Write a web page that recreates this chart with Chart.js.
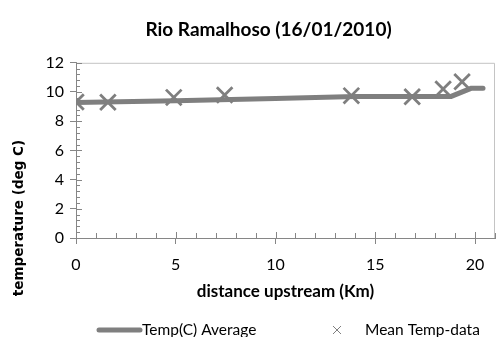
<!DOCTYPE html>
<html>
<head>
<meta charset="utf-8">
<script src="https://cdn.jsdelivr.net/npm/chart.js@4/dist/chart.umd.min.js"></script>
<style>
  html, body { margin: 0; padding: 0; background: #fff; }
  #wrap { width: 496px; height: 337px; }
</style>
</head>
<body>
<div id="wrap"><canvas id="myChart"></canvas></div>
<script>
// modelled line (Temp(C) Average)
const avgKm = [0, 5, 10, 14, 18.8, 19.8, 20.4];
const avgTemp = [9.28, 9.4, 9.55, 9.7, 9.7, 10.25, 10.25];

// measured points (Mean Temp-data)
const dataKm = [0, 1.6, 4.9, 7.45, 13.8, 16.85, 18.4, 19.35];
const dataTemp = [9.32, 9.3, 9.63, 9.8, 9.75, 9.68, 10.2, 10.7];

const seriesNames = ["Temp(C) Average", "Mean Temp-data"];
const titleText = "Rio Ramalhoso (16/01/2010)";
const xTitle = "distance upstream (Km)";
const yTitle = "temperature (deg C)";

const grey = "#7f7f7f";
const axisGrey = "#868686";

function toPoints(xs, ys) {
    var pts = [];
    for (var i = 0; i < xs.length; i++) {
        pts.push({ x: xs[i], y: ys[i] });
    }
    return pts;
}

// box around plot, inner ticks, y title and legend
const extras = {
    id: "extras",
    beforeDatasetsDraw(chart) {
        const { ctx, chartArea: a, scales } = chart;
        ctx.save();
        ctx.strokeStyle = "#c4c4c4";
        ctx.lineWidth = 1;
        ctx.beginPath();
        ctx.moveTo(a.left, a.top + 0.5);
        ctx.lineTo(a.right - 0.5, a.top + 0.5);
        ctx.lineTo(a.right - 0.5, a.bottom);
        ctx.stroke();

        ctx.strokeStyle = axisGrey;
        ctx.beginPath();
        for (var v = 0; v <= 21; v++) {
            const px = Math.round(scales.x.getPixelForValue(v)) + 0.5;
            ctx.moveTo(px, a.bottom);
            ctx.lineTo(px, a.bottom - (v % 5 === 0 ? 6 : 5));
        }
        for (var k = 0; k <= 30; k++) {
            const py = Math.round(scales.y.getPixelForValue(k * 0.4)) + 0.5;
            ctx.moveTo(a.left, py);
            ctx.lineTo(a.left + 4, py);
        }
        for (var t = 0; t <= 12; t += 2) {
            const py = Math.round(scales.y.getPixelForValue(t)) + 0.5;
            ctx.moveTo(a.left, py);
            ctx.lineTo(a.left + 6, py);
        }
        ctx.stroke();
        ctx.restore();
    },
    afterDraw(chart) {
        const ctx = chart.ctx;
        ctx.save();
        // y axis title
        ctx.translate(19, 218);
        ctx.rotate(-Math.PI / 2);
        ctx.font = "bold 13.5px 'DejaVu Sans'";
        ctx.fillStyle = "#000";
        ctx.textAlign = "center";
        ctx.textBaseline = "middle";
        ctx.fillText(yTitle, 0, 0);
        ctx.restore();

        // legend
        const ds = chart.data.datasets;
        const ly = 330;
        ctx.save();
        ctx.font = "15.5px Lato";
        ctx.fillStyle = "#000";
        ctx.textBaseline = "middle";
        ctx.strokeStyle = ds[0].borderColor;
        ctx.lineWidth = 5;
        ctx.lineCap = "round";
        ctx.beginPath();
        ctx.moveTo(99, ly);
        ctx.lineTo(140, ly);
        ctx.stroke();
        ctx.fillText(ds[0].label, 142, ly);

        ctx.strokeStyle = ds[1].borderColor;
        ctx.lineWidth = 1;
        ctx.lineCap = "butt";
        ctx.beginPath();
        ctx.moveTo(333, ly - 4);
        ctx.lineTo(341, ly + 4);
        ctx.moveTo(341, ly - 4);
        ctx.lineTo(333, ly + 4);
        ctx.stroke();
        ctx.fillText(ds[1].label, 365, ly);
        ctx.restore();
    }
};

var ctx = document.getElementById("myChart").getContext("2d");
var myChart = new Chart(ctx, {
    type: "scatter",
    data: {
        datasets: [
            {
                label: seriesNames[0],
                data: toPoints(avgKm, avgTemp),
                showLine: true,
                borderColor: grey,
                backgroundColor: grey,
                borderWidth: 5,
                borderCapStyle: "round",
                pointRadius: 0,
                order: 2
            },
            {
                label: seriesNames[1],
                data: toPoints(dataKm, dataTemp),
                showLine: false,
                pointStyle: "crossRot",
                pointRadius: 11,
                borderColor: grey,
                backgroundColor: grey,
                pointBorderWidth: 2.8,
                order: 1
            }
        ]
    },
    options: {
        responsive: true,
        maintainAspectRatio: false,
        animation: false,
        events: [],
        layout: { autoPadding: false, padding: { left: 42, right: 1, top: 0, bottom: 29 } },
        plugins: {
            legend: { display: false },
            tooltip: { enabled: false },
            title: {
                display: true,
                text: titleText,
                color: "#000",
                font: { family: "Lato", size: 19, weight: "bold" },
                padding: { top: 18, bottom: 22 }
            }
        },
        scales: {
            x: {
                type: "linear",
                min: 0,
                max: 21,
                afterFit: function (scale) {
                    scale.height = 70;
                    scale.paddingLeft = 0;
                    scale.paddingRight = 0;
                },
                ticks: {
                    stepSize: 1,
                    autoSkip: false,
                    maxRotation: 0,
                    color: "#000",
                    font: { family: "Lato", size: 16 },
                    padding: 11,
                    callback: function (v) { return v % 5 === 0 ? v : ""; }
                },
                grid: {
                    drawOnChartArea: false,
                    color: axisGrey,
                    tickColor: function (c) {
                        return c.tick && c.tick.value % 5 === 0 ? axisGrey : "rgba(0,0,0,0)";
                    },
                    tickLength: 6
                },
                border: { color: axisGrey },
                title: {
                    display: true,
                    text: xTitle,
                    color: "#000",
                    font: { family: "Lato", size: 17, weight: "bold" },
                    padding: { top: 0, bottom: 6 }
                }
            },
            y: {
                min: 0,
                max: 12,
                afterFit: function (scale) { scale.width = 34; },
                ticks: {
                    stepSize: 2,
                    color: "#000",
                    font: { family: "Lato", size: 16 },
                    padding: 6
                },
                grid: {
                    drawOnChartArea: false,
                    color: axisGrey,
                    tickLength: 6
                },
                border: { color: axisGrey }
            }
        }
    },
    plugins: [extras]
});
</script>
</body>
</html>
